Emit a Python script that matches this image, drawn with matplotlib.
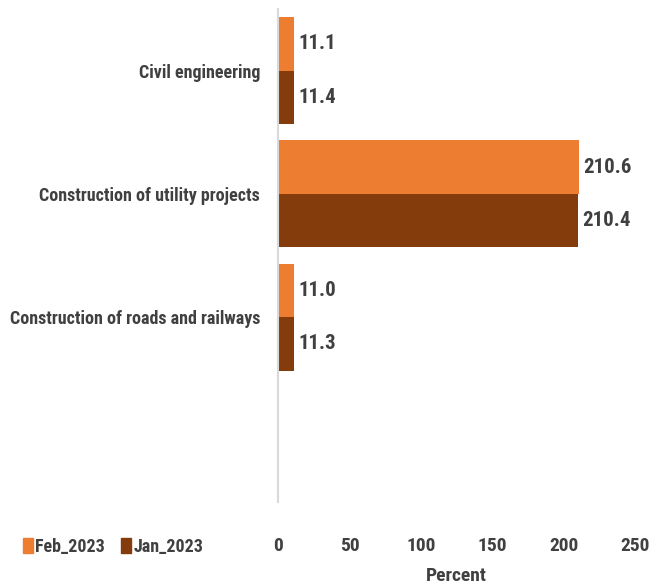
import matplotlib
matplotlib.use('Agg')
from matplotlib import pyplot as plt
from matplotlib.patches import Patch
import numpy as np

# Data
categories = ['Civil engineering', 'Construction of utility projects',
              'Construction of roads and railways', '']
feb_2023 = [11.1, 210.6, 11.0, None]
jan_2023 = [11.4, 210.4, 11.3, None]
series_names = ['Feb_2023', 'Jan_2023']
x_ticks = [0, 50, 100, 150, 200, 250]

feb_color = '#ED7D31'
jan_color = '#843C0C'
text_color = '#404040'

plt.rcParams['font.family'] = ['Roboto Condensed', 'DejaVu Sans']

fig = plt.figure(figsize=(6.49, 5.84), dpi=100)
ax = fig.add_axes([0.4284, 0.1404, 0.55, 0.8442])

y = np.arange(len(categories))
h = 0.435
for i, (f, j) in enumerate(zip(feb_2023, jan_2023)):
    if f is None:
        continue
    ax.barh(y[i] - h / 2, f, height=h, color=feb_color)
    ax.barh(y[i] + h / 2, j, height=h, color=jan_color)
    ax.text(f + 3, y[i] - h / 2, f'{f:.1f}', va='center', ha='left',
            fontsize=15, fontweight='bold', color=text_color)
    ax.text(j + 3, y[i] + h / 2, f'{j:.1f}', va='center', ha='left',
            fontsize=15, fontweight='bold', color=text_color)

ax.set_ylim(len(categories) - 0.5, -0.5)
ax.set_xlim(0, 250)
ax.set_yticks(y)
ax.set_yticklabels(categories, fontsize=13, fontweight='semibold', color=text_color)
ax.set_xticks(x_ticks)
ax.set_xticklabels([str(t) for t in x_ticks], fontsize=14, fontweight='semibold', color=text_color)
ax.tick_params(axis='both', length=0)
ax.tick_params(axis='x', pad=25)
ax.tick_params(axis='y', pad=13)

for s in ['top', 'right', 'bottom']:
    ax.spines[s].set_visible(False)
ax.spines['left'].set_color('#D9D9D9')
ax.spines['left'].set_linewidth(1.5)

ax.set_xlabel('Percent', fontsize=14, fontweight='semibold', color=text_color, labelpad=9)

handles = [Patch(color=feb_color), Patch(color=jan_color)]
fig.legend(handles, series_names, loc='center left', bbox_to_anchor=(0.01, 0.063),
           ncol=2, frameon=False, handlelength=0.55, handleheight=0.9,
           handletextpad=0.15, columnspacing=0.9,
           prop={'size': 13, 'weight': 'semibold'}, labelcolor=text_color)

plt.savefig('out.png', dpi=100)
